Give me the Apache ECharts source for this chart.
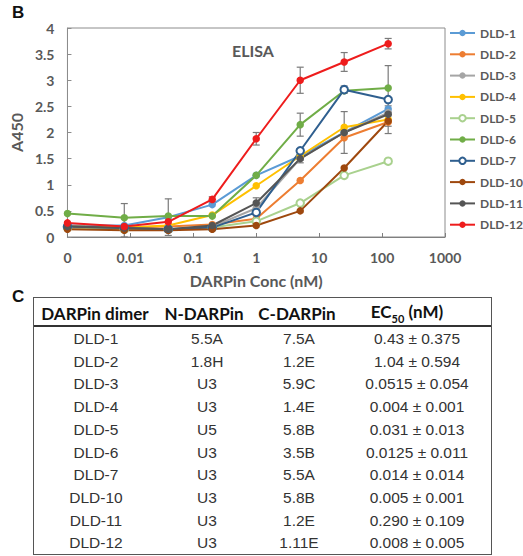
<!DOCTYPE html>
<html>
<head>
<meta charset="utf-8">
<script src="https://cdn.jsdelivr.net/npm/echarts@6/dist/echarts.min.js"></script>
<style>
  html, body { margin: 0; padding: 0; background: #fff; }
  #wrap { position: relative; width: 523px; height: 556px; overflow: hidden; }
  #chart { position: absolute; left: 0; top: 0; width: 523px; height: 556px; }
  .lbl { position: absolute; font-family: "Liberation Sans", Arial, sans-serif; font-weight: bold; font-size: 17px; color: #111; }
  #tbl { position: absolute; left: 33px; top: 297px; width: 459px; height: 258px; border: 1.5px solid #555; box-sizing: border-box; }
  .cell { position: absolute; text-align: center; white-space: nowrap; transform: translate(-50%, -50%); }
  .hd { font-family: Lato, "Open Sans", sans-serif; font-weight: bold; font-size: 17px; color: #111; }
  .rw { font-family: "Liberation Sans", Arial, sans-serif; font-size: 15.5px; color: #333; }
  #hline { position: absolute; left: 0; right: 0; top: 27px; height: 0; border-top: 2px solid #333; }
</style>
</head>
<body>
<div id="wrap">
  <div id="chart"></div>
  <div class="lbl" style="left:12px; top:3px;">B</div>
  <div class="lbl" style="left:12px; top:287px;">C</div>
  <div id="tbl"><div id="hline"></div></div>
</div>
<script>
// ---- chart data ----
var concentrations = [0, 0.008, 0.04, 0.2, 1, 5, 25, 125];
var seriesNames = ['DLD-1', 'DLD-2', 'DLD-3', 'DLD-4', 'DLD-5', 'DLD-6', 'DLD-7', 'DLD-10', 'DLD-11', 'DLD-12'];
var dld1  = [0.22, 0.22, 0.38, 0.62, 1.18, 1.55, 2.00, 2.45];
var dld2  = [0.20, 0.18, 0.20, 0.24, 0.35, 1.08, 1.90, 2.20];
var dld3  = [0.20, 0.16, 0.15, 0.20, 0.55, 1.50, 2.00, 2.38];
var dld4  = [0.20, 0.18, 0.22, 0.42, 0.98, 1.55, 2.10, 2.25];
var dld5  = [0.18, 0.15, 0.15, 0.18, 0.30, 0.65, 1.18, 1.45];
var dld6  = [0.45, 0.37, 0.40, 0.40, 1.18, 2.15, 2.80, 2.85];
var dld7  = [0.20, 0.17, 0.15, 0.18, 0.47, 1.65, 2.82, 2.63];
var dld10 = [0.15, 0.13, 0.13, 0.15, 0.22, 0.50, 1.32, 2.22];
var dld11 = [0.20, 0.17, 0.15, 0.22, 0.65, 1.50, 2.00, 2.35];
var dld12 = [0.27, 0.20, 0.29, 0.72, 1.88, 3.00, 3.35, 3.70];
// error bar half-widths (null = no visible bar)
var err1  = [null, 0.42, 0.35, null, null, null, null, 0.06];
var err2  = [null, null, null, null, null, null, null, null];
var err3  = [null, null, null, null, null, null, 0.40, null];
var err4  = [null, null, null, null, null, null, null, null];
var err5  = [null, null, null, null, null, null, null, null];
var err6  = [null, null, null, null, null, 0.22, null, null];
var err7  = [null, null, null, null, null, null, 0.07, 0.65];
var err10 = [null, null, null, null, null, null, null, 0.10];
var err11 = [null, null, null, null, 0.10, 0.08, null, null];
var err12 = [null, null, null, 0.05, 0.12, 0.25, 0.18, 0.10];
var xTickLabels = ['0', '0.01', '0.1', '1', '10', '100', '1000'];
var zeroPosition = 0.001; // where "0" sits on the log axis

// ---- table data ----
var tableHeader = ['DARPin dimer', 'N-DARPin', 'C-DARPin', 'EC<sub style="font-size:11px">50</sub> (nM)'];
var tableDimer = ['DLD-1', 'DLD-2', 'DLD-3', 'DLD-4', 'DLD-5', 'DLD-6', 'DLD-7', 'DLD-10', 'DLD-11', 'DLD-12'];
var tableN = ['5.5A', '1.8H', 'U3', 'U3', 'U5', 'U3', 'U3', 'U3', 'U3', 'U3'];
var tableC = ['7.5A', '1.2E', '5.9C', '1.4E', '5.8B', '3.5B', '5.5A', '5.8B', '1.2E', '1.11E'];
var tableEC50 = ['0.43 ± 0.375', '1.04 ± 0.594', '0.0515 ± 0.054', '0.004 ± 0.001', '0.031 ± 0.013',
                 '0.0125 ± 0.011', '0.014 ± 0.014', '0.005 ± 0.001', '0.290 ± 0.109', '0.008 ± 0.005'];

var values = [dld1, dld2, dld3, dld4, dld5, dld6, dld7, dld10, dld11, dld12];
var errors = [err1, err2, err3, err4, err5, err6, err7, err10, err11, err12];
var colors = ['#5B9BD5', '#ED7D31', '#A5A5A5', '#FFC000', '#A9D18E', '#70AD47', '#2F5F8F', '#9E480E', '#555555', '#EE1C1C'];
var symbols = ['circle', 'circle', 'circle', 'circle', 'emptyCircle', 'circle', 'emptyCircle', 'circle', 'circle', 'circle'];

function xPos(c) { return c === 0 ? zeroPosition : c; }

var lineSeries = seriesNames.map(function (name, k) {
  return {
    name: name, type: 'line', z: 3,
    data: concentrations.map(function (c, i) { return [xPos(c), values[k][i]]; }),
    symbol: symbols[k], symbolSize: 7.5, clip: false,
    lineStyle: { width: 2, color: colors[k] },
    itemStyle: { color: colors[k], borderColor: colors[k], borderWidth: symbols[k] === 'emptyCircle' ? 1.5 : 0 },
    emphasis: { disabled: true }
  };
});

var errData = [];
errors.forEach(function (arr, k) {
  arr.forEach(function (e, i) {
    if (e != null) errData.push([xPos(concentrations[i]), values[k][i], e]);
  });
});

var errSeries = {
  type: 'custom', name: 'err', z: 2, silent: true,
  data: errData,
  renderItem: function (params, api) {
    var x = api.value(0), y = api.value(1), e = api.value(2);
    var top = api.coord([x, y + e]);
    var bot = api.coord([x, Math.max(y - e, 0)]);
    var st = { stroke: '#7a7a7a', lineWidth: 1.2 };
    return { type: 'group', children: [
      { type: 'line', shape: { x1: top[0], y1: top[1], x2: bot[0], y2: bot[1] }, style: st },
      { type: 'line', shape: { x1: top[0] - 3.5, y1: top[1], x2: top[0] + 3.5, y2: top[1] }, style: st },
      { type: 'line', shape: { x1: bot[0] - 3.5, y1: bot[1], x2: bot[0] + 3.5, y2: bot[1] }, style: st }
    ]};
  }
};

var labelStyle = { fontFamily: 'Lato, "Open Sans", sans-serif', fontWeight: 'bold', fontSize: 14, color: '#595959' };

var chart = echarts.init(document.getElementById('chart'), null, { renderer: 'svg' });
chart.setOption({
  animation: false,
  grid: { left: 67, right: 78, top: 28, bottom: 319, show: true, borderColor: '#8c8c8c', borderWidth: 1 },
  title: { text: 'ELISA', left: 227, top: 37,
    textStyle: { fontFamily: 'Lato, "Open Sans", sans-serif', fontWeight: 'bold', fontSize: 16, color: '#595959' } },
  legend: {
    data: seriesNames, orient: 'vertical', left: 449, top: 25.5, padding: 0,
    itemWidth: 25, itemHeight: 8, itemGap: 6.3,
    textStyle: Object.assign({}, labelStyle, { fontSize: 12, lineHeight: 15 }),
    selectedMode: false
  },
  xAxis: {
    type: 'log', logBase: 10, min: 0.001, max: 1000,
    name: 'DARPin Conc (nM)', nameLocation: 'middle', nameGap: 35,
    nameTextStyle: Object.assign({}, labelStyle, { fontSize: 16 }),
    axisLine: { show: true, lineStyle: { color: '#7f7f7f', width: 1.2 } },
    axisTick: { show: true, inside: true, length: 4, lineStyle: { color: '#7f7f7f' } },
    minorTick: { show: false }, splitLine: { show: false }, minorSplitLine: { show: false },
    axisLabel: Object.assign({}, labelStyle, { margin: 13, formatter: function (v) {
      var idx = Math.round(Math.log10(v) + 3);
      return xTickLabels[idx] != null ? xTickLabels[idx] : '';
    } })
  },
  yAxis: {
    type: 'value', min: 0, max: 4, interval: 0.5,
    name: 'A450', nameLocation: 'middle', nameGap: 38, nameRotate: 90,
    nameTextStyle: Object.assign({}, labelStyle, { fontSize: 16 }),
    axisLine: { show: true, lineStyle: { color: '#8c8c8c' } },
    axisTick: { show: true, inside: true, length: 4, lineStyle: { color: '#8c8c8c' } },
    splitLine: { show: false },
    axisLabel: Object.assign({}, labelStyle, { margin: 13 })
  },
  series: [errSeries].concat(lineSeries)
});

// ---- table ----
var tbl = document.getElementById('tbl');
var colCenters = [62, 173, 265, 383];
var headerCenters = [61, 170, 263, 373];
function addCell(html, cls, x, y) {
  var d = document.createElement('div');
  d.className = 'cell ' + cls;
  d.style.left = x + 'px'; d.style.top = y + 'px';
  d.innerHTML = html;
  tbl.appendChild(d);
}
tableHeader.forEach(function (h, j) { addCell(h, 'hd', headerCenters[j], 15); });
var cols = [tableDimer, tableN, tableC, tableEC50];
for (var r = 0; r < tableDimer.length; r++) {
  for (var j = 0; j < 4; j++) addCell(cols[j][r], 'rw', colCenters[j], 41 + r * 22.7);
}
</script>
</body>
</html>
